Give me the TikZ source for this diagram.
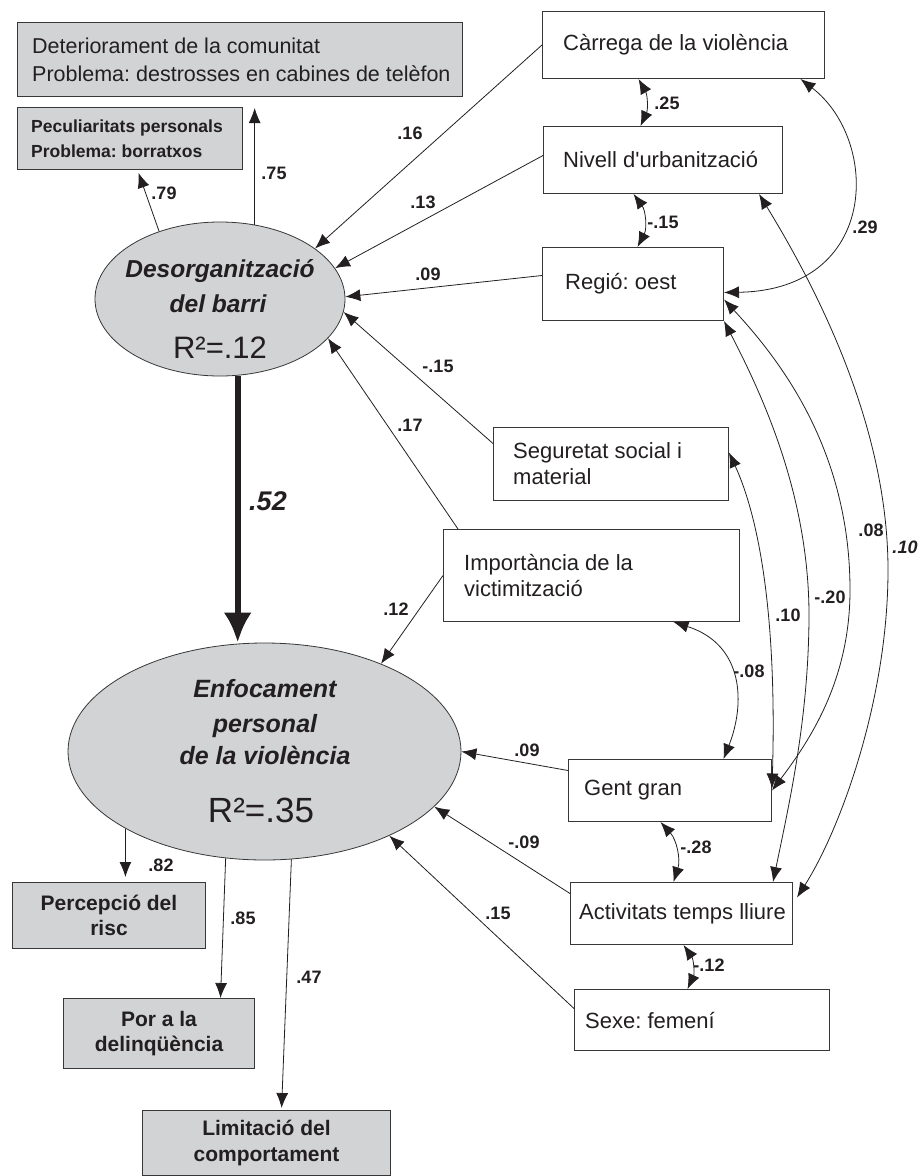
\documentclass[tikz,border=0pt]{standalone}
\usepackage{fontspec}
\setmainfont{Liberation Sans}
\newfontfamily\plainf{Liberation Sans}
\frenchspacing
\usetikzlibrary{arrows.meta,calc,shapes.geometric}
\definecolor{fillg}{RGB}{209,211,212}
\definecolor{edge}{RGB}{55,55,55}
\definecolor{ink}{RGB}{35,31,32}
\newcommand\bxf{\fontsize{22}{26}\selectfont}
\newcommand\dtf{\fontsize{21.5}{28}\selectfont}
\newcommand\bbf{\fontsize{21}{25.5}\selectfont\bfseries}
\newcommand\pbf{\fontsize{17.5}{25}\selectfont\bfseries}
\newcommand\lbf{\fontsize{18}{20}\selectfont\bfseries}
\newcommand\elf{\fontsize{24.5}{28}\selectfont\bfseries\itshape}
\newcommand\elg{\fontsize{25}{28}\selectfont\bfseries\itshape}
\begin{document}
\begin{tikzpicture}[x=1pt,y=-1pt,
  >={Latex[length=15pt,width=12pt]},
  wbox/.style={draw=edge, fill=white, line width=1pt, anchor=north west, inner sep=0pt},
  gbox/.style={draw=edge, fill=fillg, line width=1pt, anchor=north west, inner sep=0pt},
  txt/.style={anchor=west, align=left, inner sep=0pt, text=ink, font=\bxf},
  lat/.style={ellipse, draw=edge, fill=fillg, line width=0.8pt, inner sep=0pt},
  lbl/.style={font=\lbf, text=ink, inner sep=1pt},
  conn/.style={draw=ink, line width=0.8pt},
]
\useasboundingbox (0,0) rectangle (920,1176);

% indicator boxes (top left)
\node[gbox, minimum width=445pt, minimum height=74pt] (det) at (17,22) {};
\node[txt, font=\dtf] (dett) at ([xshift=15pt]det.west) {Deteriorament de la comunitat\\Problema: destrosses en cabines de telèfon};
\node[gbox, minimum width=225pt, minimum height=62pt] (pec) at (17,107) {};
\node[txt, font=\pbf] (pect) at ([xshift=14pt]pec.west) {Peculiaritats personals\\Problema: borratxos};

% exogenous boxes
\node[wbox, minimum width=282pt, minimum height=67pt] (car) at (542,11) {};
\node[txt] (cart) at ([xshift=21pt]car.west) {Càrrega de la violència};
\node[wbox, minimum width=239pt, minimum height=67pt] (niv) at (543,126) {};
\node[txt] (nivt) at ([xshift=20pt]niv.west) {\plainf Nivell d'urbanització};
\node[wbox, minimum width=181pt, minimum height=73pt] (reg) at (542,247) {};
\node[txt] (regt) at ([xshift=23pt]reg.west) {Regió: oest};
\node[wbox, minimum width=235pt, minimum height=73pt] (seg) at (493,427) {};
\node[txt] (segt) at ([xshift=20pt]seg.west) {Seguretat social i\\material};
\node[wbox, minimum width=296pt, minimum height=92pt] (imp) at (443,529) {};
\node[txt] (impt) at ([xshift=21pt]imp.west) {Importància de la\\victimització};
\node[wbox, minimum width=203pt, minimum height=62pt] (gg) at (568,759) {};
\node[txt] (ggt) at ([xshift=16pt]gg.west) {Gent gran};
\node[wbox, minimum width=222pt, minimum height=62pt] (act) at (570,882) {};
\node[txt] (actt) at ([xshift=9pt]act.west) {Activitats temps lliure};
\node[wbox, minimum width=255pt, minimum height=61pt] (sexe) at (574,989) {};
\node[txt] (sexet) at ([xshift=11pt]sexe.west) {Sexe: femení};

% outcome boxes
\node[gbox, font=\bbf, align=center, text=ink, minimum width=193pt, minimum height=66pt] (per) at (12,882) {Percepció del\\risc};
\node[gbox, font=\bbf, align=center, text=ink, minimum width=191pt, minimum height=70pt] (por) at (63,998) {Por a la\\delinqüència};
\node[gbox, font=\bbf, align=center, text=ink, minimum width=248pt, minimum height=65pt] (lim) at (142,1110) {Limitació del\\comportament};

% latent ellipses
\node[lat, minimum width=250pt, minimum height=154pt] (des) at (220,299) {};
\node[lat, minimum width=393pt, minimum height=217pt] (enf) at (264.5,751.5) {};
\node[anchor=base, font=\elf, text=ink] (des1) at (220,277) {Desorganització};
\node[anchor=base, font=\elf, text=ink] (des2) at (218,312) {del barri};
\node[anchor=base, font=\fontsize{31}{31}\selectfont, text=ink] (des3) at (220,358) {R²=.12};
\node[anchor=base, font=\elg, text=ink] (enf1) at (265,697) {Enfocament};
\node[anchor=base, font=\elg, text=ink] (enf2) at (265,732) {personal};
\node[anchor=base, font=\elg, text=ink] (enf3) at (265,764) {de la violència};
\node[anchor=base, font=\fontsize{35}{35}\selectfont, text=ink] (enf4) at (261,822) {R²=.35};

% loadings of Desorganització
\draw[conn,->,shorten >=3pt] (des.132) -- ([xshift=7.5pt]pec.south);
\draw[conn,->,shorten >=11pt] (des.65) -- (des.65 |- det.south);

% paths into Desorganització
\draw[conn,->] (car.west) -- (des.28);
\draw[conn,->] ([yshift=4.5pt]niv.west) -- (des.15);
\draw[conn,->] ([yshift=8.5pt]reg.west) -- (des.1);
\draw[conn,->] ([yshift=20.5pt]seg.west) -- (des.-6.5);
\draw[conn,->] ([xshift=15pt]imp.north west) -- (des.-20.8);

% main path
\draw[draw=ink, line width=6pt, -{Latex[length=30pt,width=28pt]}] (des.-77.5) -- (des.-77.5 |- enf.north);

% paths into Enfocament
\draw[conn,->] (imp.west) -- (enf.37.8);
\draw[conn,->] ([yshift=20pt]gg.west) -- (enf.0);
\draw[conn,->] ([yshift=20pt]act.west) -- (enf.-18.5);
\draw[conn,->] ([yshift=11.5pt]sexe.west) -- (enf.-34.3);

% loadings of Enfocament
\draw[conn,->,shorten >=5pt] (enf.209.9) -- (enf.209.9 |- per.north);
\draw[conn,->] (enf.250.5) -- ([xshift=61.5pt]por.north);
\draw[conn,->,shorten >=2pt] (enf.-76.8) -- ([xshift=15pt]lim.north);

% correlations
\draw[conn,<->] ([xshift=-45pt]car.south) to[bend left=27] ([xshift=-22.5pt]niv.north);
\draw[conn,<->] ([xshift=-29.5pt]niv.south) to[bend left=32] ([xshift=4.5pt]reg.north);
\draw[conn,<->] ([xshift=117pt]car.south) .. controls (880,140) and (880,290) .. ([yshift=-8.5pt]reg.east);
\draw[conn,<->] ([xshift=-24pt]niv.south east) .. controls (830,310) and (888,440) .. (888,570)
  .. controls (888,700) and (840,830) .. ([xshift=4pt,yshift=16pt]act.east);
\draw[conn,<->] ([yshift=-15.5pt]reg.east) .. controls (780,360) and (850,450) .. (850,590)
  .. controls (850,680) and (810,740) .. (gg.east);
\draw[conn,<->] (reg.south east) .. controls (765,400) and (810,500) .. (809,620)
  .. controls (808,720) and (790,800) .. ([xshift=-20pt]act.north east);
\draw[conn,<->] ([yshift=11.5pt]seg.east) .. controls (760,520) and (777,620) .. ([yshift=2pt]gg.east);
\draw[conn,<->] ([xshift=82pt]imp.south) .. controls (745,645) and (745,705) .. ([xshift=53.5pt]gg.north);
\draw[conn,<->] ([xshift=-9.5pt]gg.south) to[bend left=30] ([xshift=-8pt]act.north);
\draw[conn,<->] ([xshift=2pt]act.south) to[bend left=30] ([xshift=-14.5pt]sexe.north);

% coefficient labels
\node[lbl] (l75) at (274,173) {.75};
\node[lbl] (l79) at (164,193) {.79};
\node[lbl] (l16) at (410,133) {.16};
\node[lbl] (l13) at (423,202) {.13};
\node[lbl] (l09a) at (428,274) {.09};
\node[lbl] (l15a) at (438,366) {-.15};
\node[lbl] (l17) at (410,425) {.17};
\node[font=\fontsize{27}{30}\selectfont\bfseries\itshape, text=ink, inner sep=1pt] (l52) at (268,501) {.52};
\node[lbl] (l12) at (396,609) {.12};
\node[lbl] (l09b) at (527,750) {.09};
\node[lbl] (l09c) at (524,842) {-.09};
\node[lbl] (l15b) at (498,913) {.15};
\node[lbl] (l82) at (161,865) {.82};
\node[lbl] (l85) at (243,918) {.85};
\node[lbl] (l47) at (309,977) {.47};
\node[lbl] (l25) at (667,103) {.25};
\node[lbl] (l15c) at (663,222) {-.15};
\node[lbl] (l29) at (865,227) {.29};
\node[lbl] (l10a) at (788,615) {.10};
\node[lbl] (l20) at (830,597) {-.20};
\node[lbl] (l08a) at (871,530) {.08};
\node[lbl, font=\lbf\itshape] (l10b) at (905,547) {.10};
\node[lbl] (l08b) at (749,671) {-.08};
\node[lbl] (l28) at (696,847) {-.28};
\node[lbl] (l12b) at (709,965) {-.12};
\end{tikzpicture}
\end{document}
